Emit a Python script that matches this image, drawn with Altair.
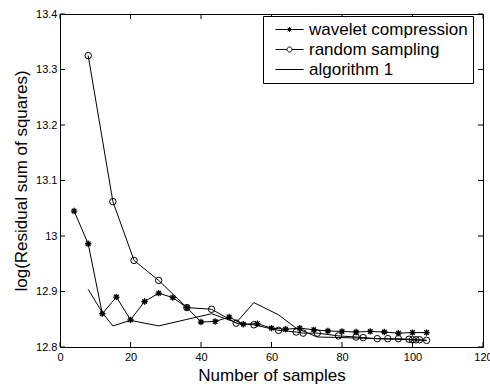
import altair as alt
import pandas as pd

# ---- data ----
wavelet_x = [4, 8, 12, 16, 20, 24, 28, 32, 36, 40, 44, 48, 52, 56, 60, 64, 68, 72, 76, 80, 84, 88, 92, 96, 100, 104]
wavelet_y = [13.045, 12.986, 12.860, 12.890, 12.849, 12.882, 12.897, 12.889, 12.871, 12.845, 12.846, 12.854, 12.841,
             12.842, 12.834, 12.832, 12.834, 12.831, 12.829, 12.828, 12.827, 12.828, 12.827, 12.825, 12.826, 12.826]

random_x = [8, 15, 21, 28, 36, 43, 50, 55, 62, 67, 69, 73, 79, 84, 86, 90, 93, 96, 99, 100, 101, 102, 104]
random_y = [13.325, 13.062, 12.956, 12.920, 12.871, 12.868, 12.843, 12.840, 12.830, 12.827, 12.825, 12.825,
            12.820, 12.818, 12.817, 12.815, 12.815, 12.815, 12.814, 12.813, 12.813, 12.813, 12.812]

alg_x = [8, 12, 15, 20, 28, 43, 50, 55, 62, 67, 73, 80, 90, 100, 104]
alg_y = [12.904, 12.862, 12.838, 12.848, 12.838, 12.860, 12.844, 12.880, 12.858, 12.834, 12.818, 12.817,
         12.815, 12.813, 12.812]

series_names = ["wavelet compression", "random sampling", "algorithm 1"]
x_ticks = [0, 20, 40, 60, 80, 100, 120]
y_ticks = [12.8, 12.9, 13.0, 13.1, 13.2, 13.3, 13.4]

x_title = "Number of samples"
y_title = "log(Residual sum of squares)"

# ---- build tables ----
df_w = pd.DataFrame({"series": series_names[0], "x": wavelet_x, "y": wavelet_y})
df_r = pd.DataFrame({"series": series_names[1], "x": random_x, "y": random_y})
df_a = pd.DataFrame({"series": series_names[2], "x": alg_x, "y": alg_y})
df = pd.concat([df_w, df_r, df_a], ignore_index=True)

W, H = 423, 333
FONT = "Liberation Sans"
TICK = 5

xs = alt.Scale(domain=[0, 120], nice=False, zero=False)
ys = alt.Scale(domain=[12.8, 13.4], nice=False, zero=False)

X = alt.X("x:Q", scale=xs, axis=alt.Axis(values=x_ticks, title=x_title, grid=False, tickSize=0,
                                          labelPadding=4, labelBaseline="top", labelFlush=False,
                                          titleY=33, titleBaseline="alphabetic", domain=False))
Y = alt.Y("y:Q", scale=ys, axis=alt.Axis(values=y_ticks, title=y_title, grid=False, tickSize=0,
                                          labelPadding=3, format=".4~g", labelFlush=False,
                                          titleX=-34, titleBaseline="alphabetic", domain=False))

ASTER = "M0,-1L0,1M-1,0L1,0M-0.72,-0.72L0.72,0.72M-0.72,0.72L0.72,-0.72"

lines = alt.Chart(df).mark_line(color="black", strokeWidth=1).encode(x=X, y=Y, detail="series:N")
pts_w = alt.Chart(df_w).mark_point(shape=ASTER, size=40, filled=False, color="black",
                                   strokeWidth=1.3, opacity=1).encode(x=X, y=Y)
pts_r = alt.Chart(df_r).mark_point(shape="circle", size=42, filled=False, color="black",
                                   strokeWidth=1, opacity=1).encode(x=X, y=Y)

# legend symbols: line with marker
L1 = "M-2.8,0L2.8,0M0,-0.5L0,0.5M-0.5,0L0.5,0M-0.36,-0.36L0.36,0.36M-0.36,0.36L0.36,-0.36"
L2 = "M-2.8,0L-0.5,0M0.5,0L2.8,0M-0.5,0A0.5,0.5,0,1,1,0.5,0A0.5,0.5,0,1,1,-0.5,0Z"
L3 = "M-2.8,0L2.8,0"

leg_df = pd.DataFrame({"series": series_names})
legend_layer = alt.Chart(leg_df).mark_point(opacity=0, filled=False).encode(
    shape=alt.Shape("series:N",
                    scale=alt.Scale(domain=series_names, range=[L1, L2, L3]),
                    legend=alt.Legend(title=None, orient="none", legendX=203, legendY=2,
                                      symbolSize=100, symbolOpacity=1, symbolStrokeColor="black",
                                      symbolFillColor="transparent", symbolStrokeWidth=1,
                                      symbolOffset=13,
                                      labelFont=FONT, labelFontSize=17, labelColor="black",
                                      labelOffset=11, labelLimit=0, rowPadding=2,
                                      padding=5, strokeColor="black", fillColor="white",
                                      cornerRadius=0))
)

# inward tick marks on all four sides
xt = pd.DataFrame({"x": x_ticks})
yt = pd.DataFrame({"y": y_ticks})
tick_b = alt.Chart(xt).mark_rule(color="black", strokeWidth=1).encode(
    x=alt.X("x:Q", scale=xs), y=alt.value(H), y2=alt.value(H - TICK))
tick_t = alt.Chart(xt).mark_rule(color="black", strokeWidth=1).encode(
    x=alt.X("x:Q", scale=xs), y=alt.value(0), y2=alt.value(TICK))
tick_l = alt.Chart(yt).mark_rule(color="black", strokeWidth=1).encode(
    y=alt.Y("y:Q", scale=ys), x=alt.value(0), x2=alt.value(TICK))
tick_r = alt.Chart(yt).mark_rule(color="black", strokeWidth=1).encode(
    y=alt.Y("y:Q", scale=ys), x=alt.value(W), x2=alt.value(W - TICK))

chart = alt.layer(lines, pts_w, pts_r, tick_b, tick_t, tick_l, tick_r, legend_layer).resolve_scale(
    shape="independent"
).properties(
    width=W, height=H,
    autosize=alt.AutoSizeParams(type="none"),
    padding={"left": 60, "top": 14, "right": 7, "bottom": 37},
    background="white",
).configure_view(
    stroke="black", strokeWidth=1
).configure_axis(
    labelFont=FONT, labelFontSize=11, labelColor="black",
    titleFont=FONT, titleFontSize=17, titleFontWeight="normal", titleColor="black",
)

chart.save("out.html", embed_options={"renderer": "svg", "actions": False})
